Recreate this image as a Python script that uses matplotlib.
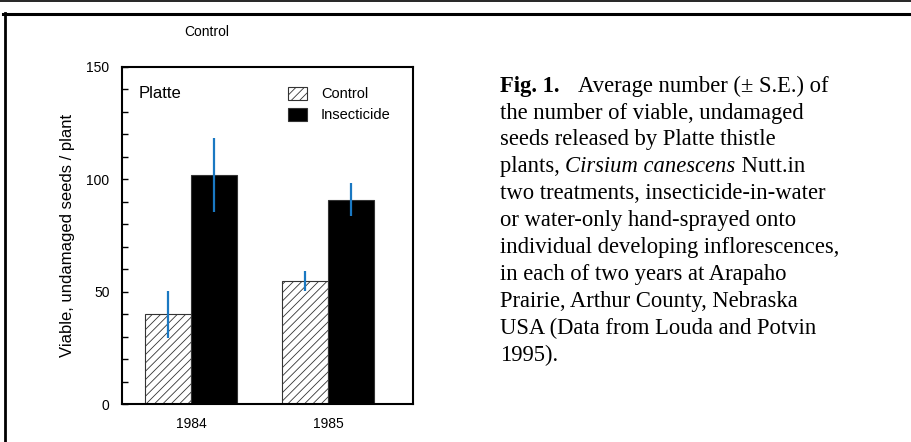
import matplotlib.pyplot as plt
import matplotlib.lines as mlines
import numpy as np

plt.rcParams['hatch.linewidth'] = 0.6

years = ['1984', '1985']
control = [40, 54.7]
control_se = [10.5, 4.5]
insecticide = [102, 91]
insecticide_se = [16.6, 7.5]

caption_lines = [
    None,  # line 1 built from parts
    "the number of viable, undamaged",
    "seeds released by Platte thistle",
    None,  # line 4 built from parts
    "two treatments, insecticide-in-water",
    "or water-only hand-sprayed onto",
    "individual developing inflorescences,",
    "in each of two years at Arapaho",
    "Prairie, Arthur County, Nebraska",
    "USA (Data from Louda and Potvin",
    "1995).",
]

W, H = 911, 442
fig = plt.figure(figsize=(W / 100, H / 100), dpi=100)
ax = fig.add_axes([122 / W, 1 - 404 / H, 291 / W, 337 / H])

sans = ['Liberation Sans', 'DejaVu Sans']
serif = ['Liberation Serif', 'DejaVu Serif']

x = np.arange(len(years))
w = 0.336
err_col = '#1a78c2'

b1 = ax.bar(x - w / 2, control, w, color='white', edgecolor='#333333',
            hatch='////', linewidth=0.8, label='Control')
b2 = ax.bar(x + w / 2, insecticide, w, color='black', edgecolor='#333333',
            linewidth=0.8, label='Insecticide')
ax.errorbar(x - w / 2, control, yerr=control_se, fmt='none',
            ecolor=err_col, elinewidth=1.6, capsize=0, zorder=3)
ax.errorbar(x + w / 2, insecticide, yerr=insecticide_se, fmt='none',
            ecolor=err_col, elinewidth=1.6, capsize=0, zorder=3)

ax.set_xlim(-0.504, 1.62)
ax.set_ylim(0, 150)
ax.set_xticks(x)
ax.set_xticklabels(years, family=sans, fontsize=10)
ax.set_yticks([0, 50, 100, 150])
ax.set_yticks(np.arange(0, 151, 10), minor=True)
ax.tick_params(axis='y', which='both', direction='in', length=4, width=1,
               pad=9, labelsize=10)
ax.tick_params(axis='x', length=0, pad=9)
for lab in ax.get_yticklabels():
    lab.set_family(sans)
for s in ax.spines.values():
    s.set_linewidth(1.5)

ax.set_ylabel('Viable, undamaged seeds / plant', family=sans, fontsize=12,
              labelpad=8)
ax.text(0.058, 0.944, 'Platte', transform=ax.transAxes, family=sans,
        fontsize=12, va='top', ha='left')

leg = ax.legend(handles=[b1, b2], loc='upper left',
                bbox_to_anchor=(0.571, 0.942), frameon=False, borderpad=0,
                borderaxespad=0, handlelength=1.3, handleheight=1.0,
                handletextpad=0.96, labelspacing=0.45,
                prop={'family': sans, 'size': 10.5})

fig.text(207 / W, 1 - 32 / H, 'Control', family=sans, fontsize=10,
         ha='center', va='center')

# caption
cx = 500 / W
base0 = 91.7
step = 26.9
fs = 16.3
for i, line in enumerate(caption_lines):
    y = 1 - (base0 + step * i) / H
    if i == 0:
        fig.text(cx, y, 'Fig. 1.', family=serif, fontsize=fs,
                 fontweight='bold', va='baseline')
        fig.text(cx + 78 / W, y, 'Average number (\u00b1 S.E.) of',
                 family=serif, fontsize=fs, va='baseline')
    elif i == 3:
        t1 = fig.text(cx, y, 'plants, ', family=serif, fontsize=fs,
                      va='baseline')
        t2 = ax.annotate('Cirsium canescens', xy=(1, 0), xycoords=t1,
                         family=serif, fontsize=fs, style='italic',
                         va='bottom', annotation_clip=False)
        ax.annotate(' Nutt.in', xy=(1, 0), xycoords=t2, family=serif,
                    fontsize=fs, va='bottom', annotation_clip=False)
    else:
        fig.text(cx, y, line, family=serif, fontsize=fs, va='baseline')

# page rules
fig.add_artist(mlines.Line2D([0, 1], [1 - 0.7 / H, 1 - 0.7 / H],
                             transform=fig.transFigure, color='black', lw=1.2))
fig.add_artist(mlines.Line2D([3.3 / W, 1], [1 - 14.2 / H, 1 - 14.2 / H],
                             transform=fig.transFigure, color='black', lw=2.2))
fig.add_artist(mlines.Line2D([4.7 / W, 4.7 / W], [0, 1 - 13 / H],
                             transform=fig.transFigure, color='black', lw=2.0))

fig.savefig('out.png', dpi=100)
